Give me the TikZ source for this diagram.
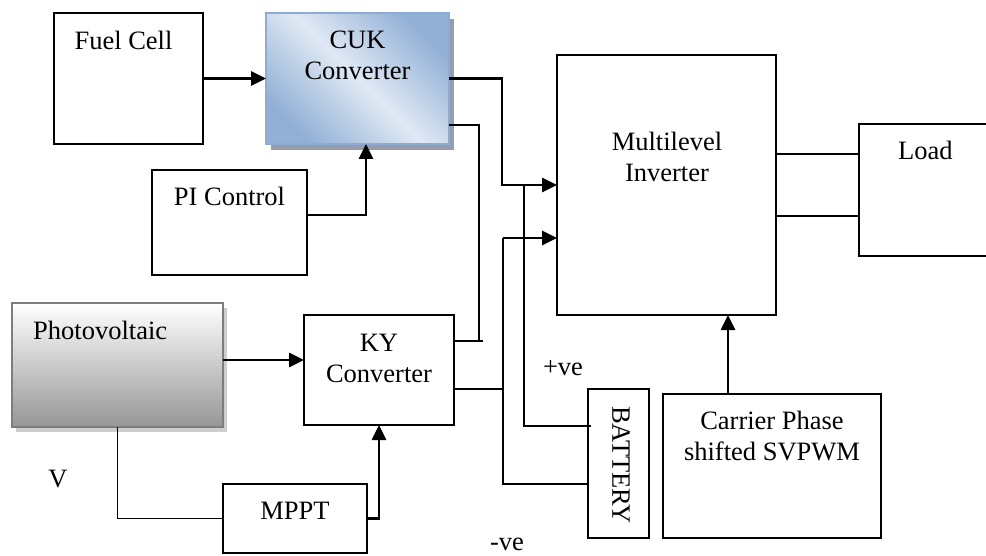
\documentclass[tikz,border=0pt]{standalone}
\usepackage{fontspec}
\setmainfont{Liberation Serif}
\usetikzlibrary{arrows.meta,shadows}
\definecolor{cukdark}{RGB}{146,176,214}
\definecolor{cuklight}{RGB}{224,233,244}
\definecolor{cukborder}{RGB}{140,172,212}
\definecolor{cukshadow}{RGB}{150,158,172}
\definecolor{pvdark}{RGB}{150,150,150}
\definecolor{pvborder}{RGB}{125,125,125}
\definecolor{pvshadow}{RGB}{205,205,205}
\begin{document}
\begin{tikzpicture}[x=1pt,y=-1pt,
  box/.style={draw=black,line width=1.8pt,rectangle,inner sep=0pt,outer sep=0pt},
  lbl/.style={font=\fontsize{26.5}{31}\selectfont,inner sep=0pt,align=center,anchor=base},
  thin/.style={line width=1.7pt},
  thick/.style={line width=2.6pt},
  arr/.style={-{Triangle[length=15pt,width=14pt]}}]
\useasboundingbox (0,0) rectangle (986,556);
% boxes
\node[box,draw=cukborder,line width=1.6pt,minimum width=183pt,minimum height=131pt,
  left color=cukdark,right color=cukdark,middle color=cuklight,shading angle=-45,
  general shadow={fill=cukshadow,shadow xshift=5pt,shadow yshift=-6pt}] (cuk) at (357.5,78.5) {};
\node[box,minimum width=149pt,minimum height=131pt] (fuel) at (128.5,78.5) {};
\node[box,minimum width=155pt,minimum height=105pt] (pi) at (229.5,222.5) {};
\node[box,draw=pvborder,line width=1.6pt,minimum width=211pt,minimum height=124pt,
  top color=white,bottom color=pvdark,
  general shadow={fill=pvshadow,shadow xshift=4pt,shadow yshift=-5pt}] (pv) at (117.5,365) {};
\node[box,minimum width=150pt,minimum height=110pt] (ky) at (379,370) {};
\node[box,minimum width=144pt,minimum height=69pt] (mppt) at (295,518.5) {};
\node[box,minimum width=219pt,minimum height=260pt] (inv) at (666.5,185) {};
\node[box,minimum width=140pt,minimum height=132pt] (load) at (929,190) {};
\node[box,minimum width=61pt,minimum height=149pt] (bat) at (618.5,463.5) {};
\node[box,minimum width=218pt,minimum height=144pt] (car) at (772,466) {};
% texts
\node[lbl] (tfuel) at (123.5,50) {Fuel Cell};
\node[lbl] (tcuk) at (357.5,80) {CUK\\Converter};
\node[lbl] (tpi) at (229.5,206) {PI Control};
\node[lbl,anchor=base west] (tpv) at (33,340) {Photovoltaic};
\node[lbl] (tky) at (379,382) {KY\\Converter};
\node[lbl] (tmppt) at (295,519) {MPPT};
\node[lbl] (tv) at (58,487) {V};
\node[lbl] (tinv) at (667,182) {Multilevel\\Inverter};
\node[lbl,anchor=base west] (tload) at (898,160) {Load};
\node[lbl] (tpos) at (563,375) {+ve};
\node[lbl] (tneg) at (507,550) {-ve};
\node[lbl] (tcar) at (772,460) {Carrier Phase\\shifted SVPWM};
\node[lbl,anchor=center,rotate=-90] (tbat) at (621,465) {BATTERY};
% junction coordinates
\coordinate (j1) at (502,185);
\coordinate (j2) at (479,341);
\coordinate (j3) at (483,341);
\coordinate (j4) at (503,389);
\coordinate (j5) at (503,238);
\coordinate (j6) at (503,484);
\coordinate (j7) at (524,185);
\coordinate (j8) at (524,426);
\coordinate (invbot) at ([xshift=61.5pt]inv.south);
\coordinate (pvout) at ([yshift=5pt]pv.east);
\coordinate (invo1) at ([yshift=31pt]inv.east);
\coordinate (invo2) at ([yshift=-31pt]inv.east);
% connectors
\draw[thick,arr] (fuel.east) -- (cuk.west);
\draw[thick,arr] ([yshift=7.5pt]pi.east) -| ([xshift=8.5pt]cuk.south);
\draw[thick,arr] (cuk.east) -| (j1) -- (inv.west);
\draw[thin] ([yshift=-46.5pt]cuk.east) -| (j2);
\draw[thin] ([yshift=29pt]ky.east) -- (j3);
\draw[thin] ([yshift=-19pt]ky.east) -- (j4);
\draw[thick,arr] (j5) -- ([yshift=-53pt]inv.west);
\draw[thin] (j5) -- (j6) -- (bat.west |- j6);
\draw[thin] (j7) -- (j8) -- ([xshift=3pt]bat.west |- j8);
\draw[thick,arr] (pvout) -- (ky.west |- pvout);
\draw[thin] (pv.south) |- (mppt.west);
\draw[thick,arr] (mppt.east) -| (ky.south);
\draw[thick,arr] (car.north -| invbot) -- (invbot);
\draw[thin] (invo1) -- (load.west |- invo1);
\draw[thin] (invo2) -- (load.west |- invo2);
\end{tikzpicture}
\end{document}
